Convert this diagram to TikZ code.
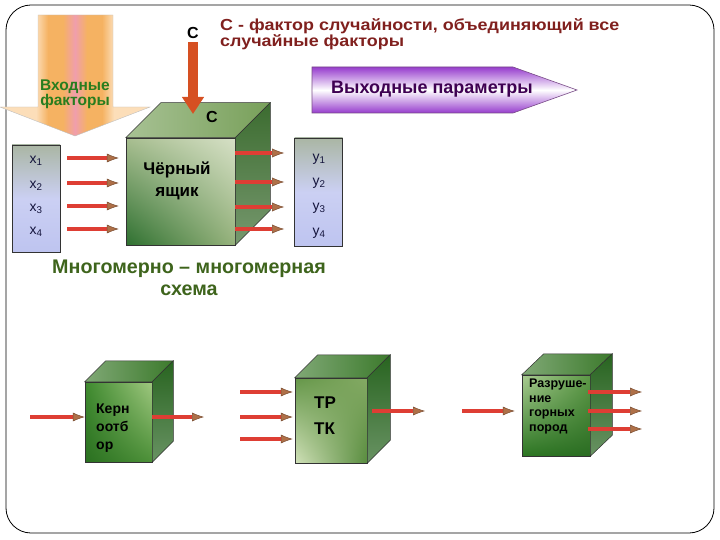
\documentclass[tikz,border=0pt]{standalone}
\usepackage{fontspec}
\setmainfont{Liberation Sans}
\usetikzlibrary{arrows.meta,shadings}

\definecolor{arrowred}{RGB}{222,62,52}
\definecolor{tipbrown}{RGB}{175,112,72}
\definecolor{corange}{RGB}{214,80,34}
\definecolor{notered}{RGB}{128,32,30}
\definecolor{infgreen}{RGB}{40,125,30}
\definecolor{schgreen}{RGB}{62,100,28}
\definecolor{outpurple}{RGB}{62,0,82}
\definecolor{purp}{RGB}{150,60,205}
\definecolor{peach}{RGB}{252,222,185}
\definecolor{orng}{RGB}{245,178,98}
\definecolor{pinky}{RGB}{240,158,172}
\definecolor{lav}{RGB}{190,196,240}
\definecolor{colgray}{RGB}{170,182,164}
\definecolor{navy}{RGB}{20,20,60}
\definecolor{bigtop}{RGB}{120,160,90}
\definecolor{bigside}{RGB}{60,108,48}
\definecolor{smalltop}{RGB}{60,122,44}
\definecolor{smallside}{RGB}{40,100,32}

\pgfdeclarehorizontalshading{instripes}{100bp}{color(0bp)=(peach); color(37bp)=(peach);
  color(41bp)=(orng); color(46bp)=(orng); color(50bp)=(pinky); color(54bp)=(orng);
  color(59bp)=(orng); color(63bp)=(peach); color(100bp)=(peach)}

\newcommand{\cubesides}[5]{%
  \draw[black!80,line width=0.5pt,left color=#4!65!white,right color=#4] (#1.north west) -- ++(#2,-#3)
    -- ([shift={(#2,-#3)}]#1.north east) -- (#1.north east) -- cycle;
  \draw[black!80,line width=0.5pt,top color=#5,bottom color=#5!70!white] (#1.north east) -- ++(#2,-#3)
    -- ([shift={(#2,-#3)}]#1.south east) -- (#1.south east) -- cycle;}

\tikzset{
  flow/.style={arrowred, line width=3.5pt, -{Latex[length=12pt,width=9pt,fill=tipbrown,color=tipbrown!70!black,line width=0.5pt]}},
  cubefront/.style={draw=black!80, line width=0.5pt, inner sep=0pt},
  colbox/.style={draw=black!80, line width=0.6pt, inner sep=0pt, top color=colgray, bottom color=lav, middle color=lav!80!white, minimum width=48pt},
  varlabel/.style={navy, font=\fontsize{14}{14}\selectfont},
  boxtext/.style={font=\bfseries\fontsize{14}{18}\selectfont, align=left, inner sep=0pt}
}

\begin{document}
\begin{tikzpicture}[x=1pt,y=-1pt]
\useasboundingbox (0,0) rectangle (720,540);
\draw[black, line width=0.8pt, rounded corners=25pt] (6,5) rectangle (714,533);

\path[shading=instripes, draw=gray!50] (38,15) -- (113,15) -- (113,107) -- (150,107) -- (75,136) -- (0,107) -- (38,107) -- cycle;
\node[infgreen, font=\bfseries\fontsize{15.5}{13}\selectfont, align=center] (infactors) at (75,94) {Входные\\факторы};

\node[font=\bfseries\fontsize{16}{16}\selectfont] (clab) at (193,33) {С};
\node[notered, font=\bfseries\fontsize{16}{15}\selectfont, align=left, anchor=north west, inner sep=0pt] (cnote) at (220,18)
  {\scalebox{1.12}[1]{С - фактор случайности, объединяющий все}\\\scalebox{1.12}[1]{случайные факторы}};

\path[draw=outpurple!70, line width=0.6pt, top color=purp, bottom color=purp, middle color=white]
  (312,67) -- (513,67) -- (577,90) -- (513,113) -- (312,113) -- cycle;
\node[outpurple, font=\bfseries\fontsize{18}{16}\selectfont] (outpar) at (432,89) {Выходные параметры};

\node[cubefront, minimum width=109pt, minimum height=107pt,
  upper left={rgb,255:red,168;green,190;blue,144}, upper right={rgb,255:red,214;green,224;blue,198},
  lower left={rgb,255:red,46;green,112;blue,48}, lower right={rgb,255:red,150;green,178;blue,124}] (bigbox) at (180.5,191.5) {};
\cubesides{bigbox}{35}{35}{bigtop}{bigside}
\node[font=\bfseries\fontsize{17}{22}\selectfont, align=center] (bbtext) at (177,181) {Чёрный\\ящик};
\node[font=\bfseries\fontsize{16}{16}\selectfont] (ctop) at (212,117) {С};
\coordinate (cend) at (193,114);
\draw[corange, line width=10pt, -{Triangle[length=17pt,width=21pt]}] (clab.south) -- (cend);

\node[colbox, minimum height=107pt] (xbox) at (36,198.5) {};
\node[colbox, minimum height=108pt] (ybox) at (318.5,192) {};
\foreach \i/\yy in {1/161,2/186,3/209,4/232}
  \node[varlabel] (xl\i) at (36,\yy) {x\textsubscript{\i}};
\foreach \i/\yy in {1/159,2/183,3/208,4/233}
  \node[varlabel] (yl\i) at (319,\yy) {y\textsubscript{\i}};
\foreach \i in {1,...,4}
  \draw[flow] ([xshift=7pt,yshift=3pt]xbox.east |- xl\i) -- ([xshift=-7pt,yshift=3pt]bigbox.west |- xl\i);
\foreach \i/\d in {1/6,2/1,3/1,4/4}
  \draw[flow] ([yshift=\d pt]bigbox.east |- yl\i) -- ([xshift=-10pt,yshift=\d pt]ybox.west |- yl\i);

\node[schgreen, font=\bfseries\fontsize{19.7}{22}\selectfont, align=center] (scheme) at (189,278) {Многомерно – многомерная\\схема};

\node[cubefront, minimum width=67pt, minimum height=80pt,
  upper left={rgb,255:red,62;green,138;blue,46}, upper right={rgb,255:red,160;green,200;blue,128},
  lower left={rgb,255:red,42;green,112;blue,32}, lower right={rgb,255:red,76;green,144;blue,56}] (kern) at (118.5,422) {};
\cubesides{kern}{21}{21}{smalltop}{smallside}
\node[boxtext, anchor=west] (kerntext) at (96,428) {Керн\\оотб\\ор};
\coordinate (kin) at (30,417);
\coordinate (kout) at (204,417);
\draw[flow] (kin) -- (kern.west |- kin);
\draw[flow] (kern.east |- kout) -- (kout);

\node[cubefront, minimum width=72pt, minimum height=85pt,
  upper left={rgb,255:red,100;green,150;blue,72}, upper right={rgb,255:red,132;green,170;blue,100},
  lower left={rgb,255:red,210;green,226;blue,186}, lower right={rgb,255:red,88;green,140;blue,62}] (trtk) at (331,420.5) {};
\cubesides{trtk}{23}{23}{smalltop}{smallside}
\node[font=\bfseries\fontsize{17}{26}\selectfont, align=left] (trtktext) at (325,416) {ТР\\ТК};
\foreach \i/\yy in {1/392,2/417,3/439}{
  \coordinate (tin\i) at (240,\yy);
  \draw[flow] (tin\i) -- ([xshift=-2pt]trtk.west |- tin\i);}
\coordinate (tout) at (425,411);
\draw[flow] ([xshift=5pt]trtk.east |- tout) -- (tout);

\node[cubefront, minimum width=68pt, minimum height=81pt,
  upper left={rgb,255:red,170;green,204;blue,146}, upper right={rgb,255:red,92;green,152;blue,70},
  lower left={rgb,255:red,44;green,118;blue,34}, lower right={rgb,255:red,42;green,108;blue,34}] (razr) at (556,415.5) {};
\cubesides{razr}{22}{21}{smalltop}{smallside}
\node[boxtext, font=\bfseries\fontsize{12.5}{14.5}\selectfont, anchor=north west] (razrtext) at (529,379) {Разруше-\\ние\\горных\\пород};
\coordinate (rin) at (462,411);
\draw[flow] (rin) -- ([xshift=-7pt]razr.west |- rin);
\foreach \i/\yy in {1/392,2/411,3/429}{
  \coordinate (rout\i) at (642,\yy);
  \draw[flow] ([xshift=-2pt]razr.east |- rout\i) -- (rout\i);}
\end{tikzpicture}
\end{document}
